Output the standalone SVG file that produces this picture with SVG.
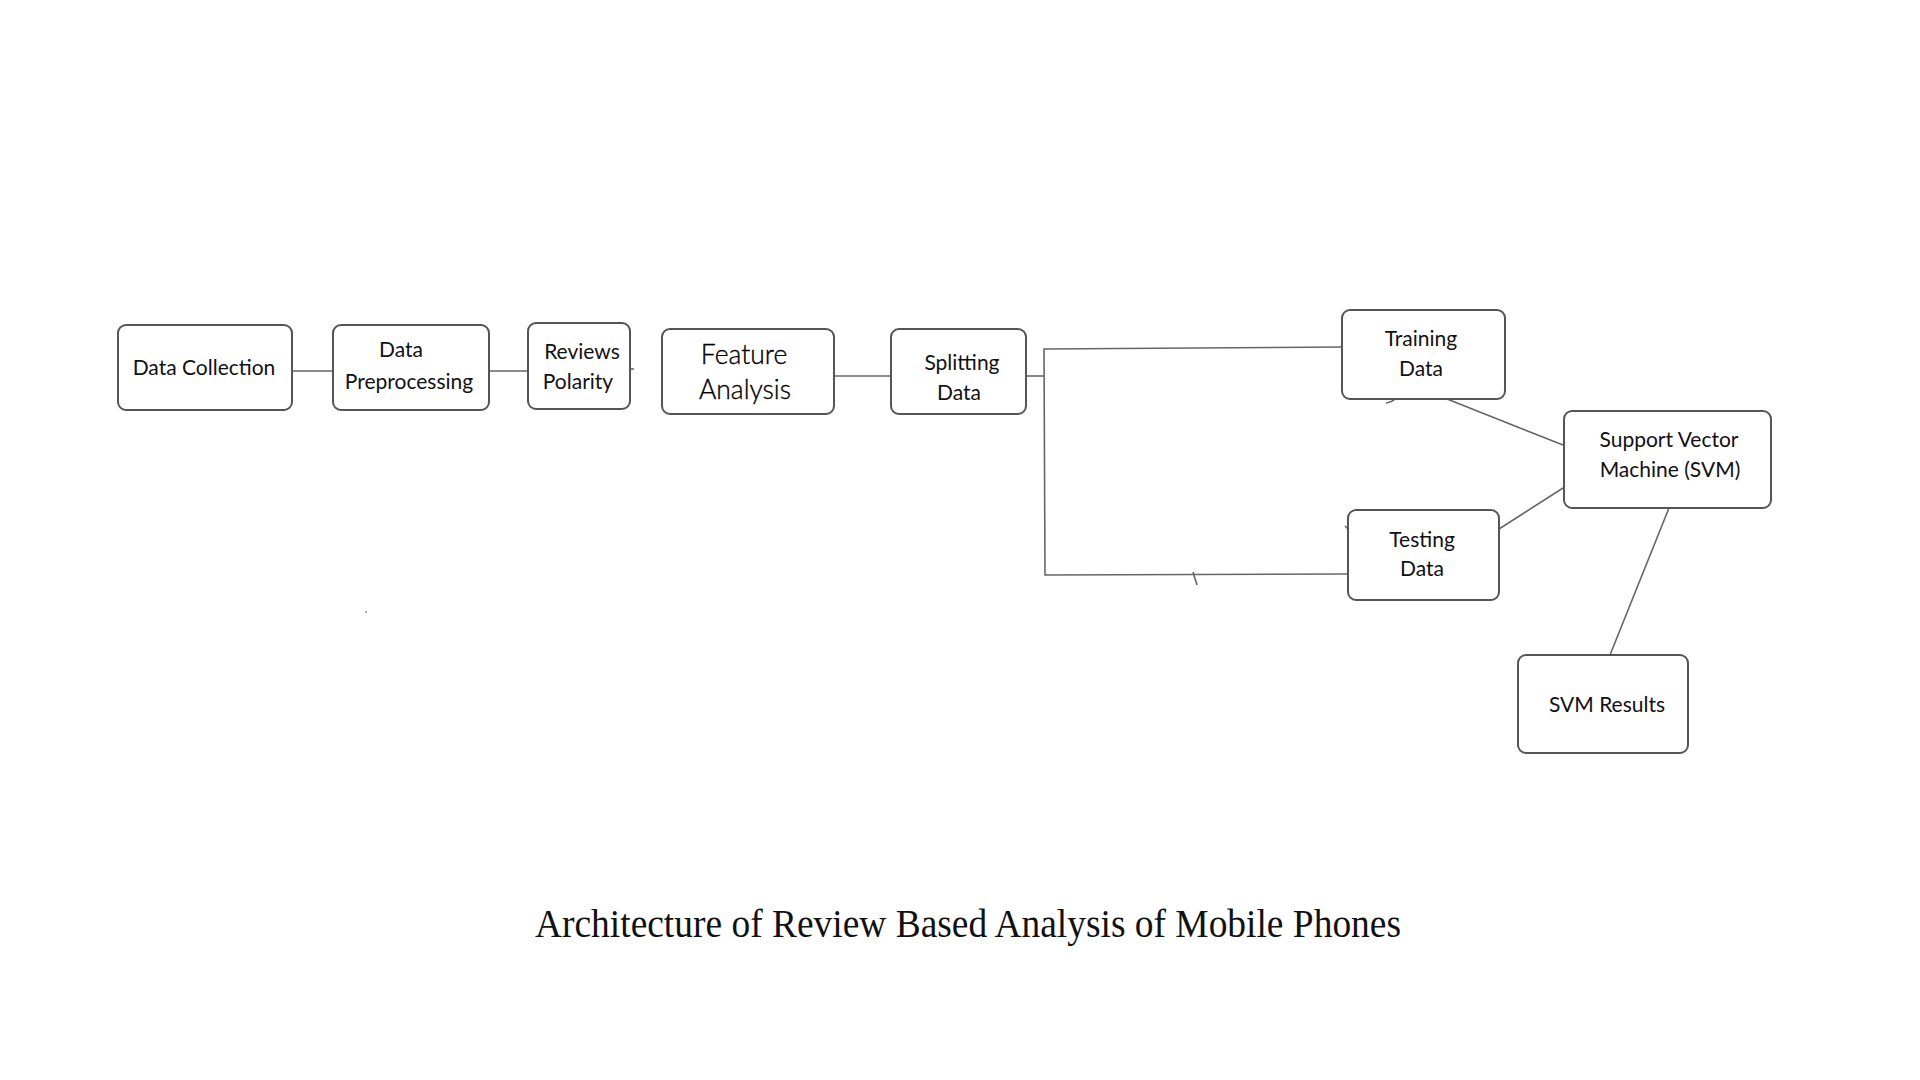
<svg xmlns="http://www.w3.org/2000/svg" width="1920" height="1080" viewBox="0 0 1920 1080">
<style>
.box{fill:#fff;stroke:#555;stroke-width:2}
.lbl{font-family:Lato,"Liberation Sans",sans-serif;font-size:21px;fill:#111;text-anchor:middle}
.big{font-size:26.5px;font-weight:300;fill:#000;stroke:#000;stroke-width:0.35}
.con{fill:none;stroke:#666;stroke-width:1.6}
.title{font-family:"Liberation Serif","Times New Roman",serif;font-size:41px;fill:#111}
</style>
<rect width="1920" height="1080" fill="#fff"/>
<g id="connectors">
<line class="con" x1="292" y1="371" x2="333" y2="371"/>
<line class="con" x1="489" y1="371" x2="528" y2="371"/>
<line class="con" x1="630" y1="369" x2="634" y2="369"/>
<line class="con" x1="834" y1="376" x2="891" y2="376"/>
<polyline class="con" points="1026,376 1044,376"/>
<polyline class="con" points="1342,347 1044,349 1045,575 1348,574"/>
<line class="con" x1="1193" y1="572" x2="1197" y2="585"/>
<path class="con" d="M1386,403 Q1392,402 1395,399" stroke-width="1.2"/>
<line class="con" x1="1345" y1="526" x2="1349" y2="530" stroke-width="1.2"/>
<line class="con" x1="1447" y1="399" x2="1563" y2="445"/>
<line class="con" x1="1499" y1="529" x2="1563" y2="488"/>
<line class="con" x1="1669" y1="508" x2="1610" y2="655"/>
<circle cx="366" cy="612" r="0.8" fill="#444"/>
</g>
<g id="data-collection">
<rect class="box" x="118" y="325" width="174" height="85" rx="8"/>
<text class="lbl" x="204" y="375">Data Collection</text>
</g>
<g id="data-preprocessing">
<rect class="box" x="333" y="325" width="156" height="85" rx="8"/>
<text class="lbl" x="401" y="357">Data</text>
<text class="lbl" x="409" y="389">Preprocessing</text>
</g>
<g id="reviews-polarity">
<rect class="box" x="528" y="323" width="102" height="86" rx="8"/>
<text class="lbl" x="582" y="359">Reviews</text>
<text class="lbl" x="578" y="389">Polarity</text>
</g>
<g id="feature-analysis">
<rect class="box" x="662" y="329" width="172" height="85" rx="8"/>
<text class="lbl big" x="744" y="364">Feature</text>
<text class="lbl big" x="745" y="399">Analysis</text>
</g>
<g id="splitting-data">
<rect class="box" x="891" y="329" width="135" height="85" rx="8"/>
<text class="lbl" x="962" y="370">Splitting</text>
<text class="lbl" x="959" y="400">Data</text>
</g>
<g id="training-data">
<rect class="box" x="1342" y="310" width="163" height="89" rx="8"/>
<text class="lbl" x="1421" y="346">Training</text>
<text class="lbl" x="1421" y="376">Data</text>
</g>
<g id="testing-data">
<rect class="box" x="1348" y="510" width="151" height="90" rx="8"/>
<text class="lbl" x="1422" y="547">Testing</text>
<text class="lbl" x="1422" y="576">Data</text>
</g>
<g id="svm">
<rect class="box" x="1564" y="411" width="207" height="97" rx="8"/>
<text class="lbl" x="1669" y="447">Support Vector</text>
<text class="lbl" x="1670" y="477">Machine (SVM)</text>
</g>
<g id="svm-results">
<rect class="box" x="1518" y="655" width="170" height="98" rx="8"/>
<text class="lbl" x="1607" y="712">SVM Results</text>
</g>
<text class="title" x="535" y="937" textLength="866" lengthAdjust="spacingAndGlyphs">Architecture of Review Based Analysis of Mobile Phones</text>
</svg>
